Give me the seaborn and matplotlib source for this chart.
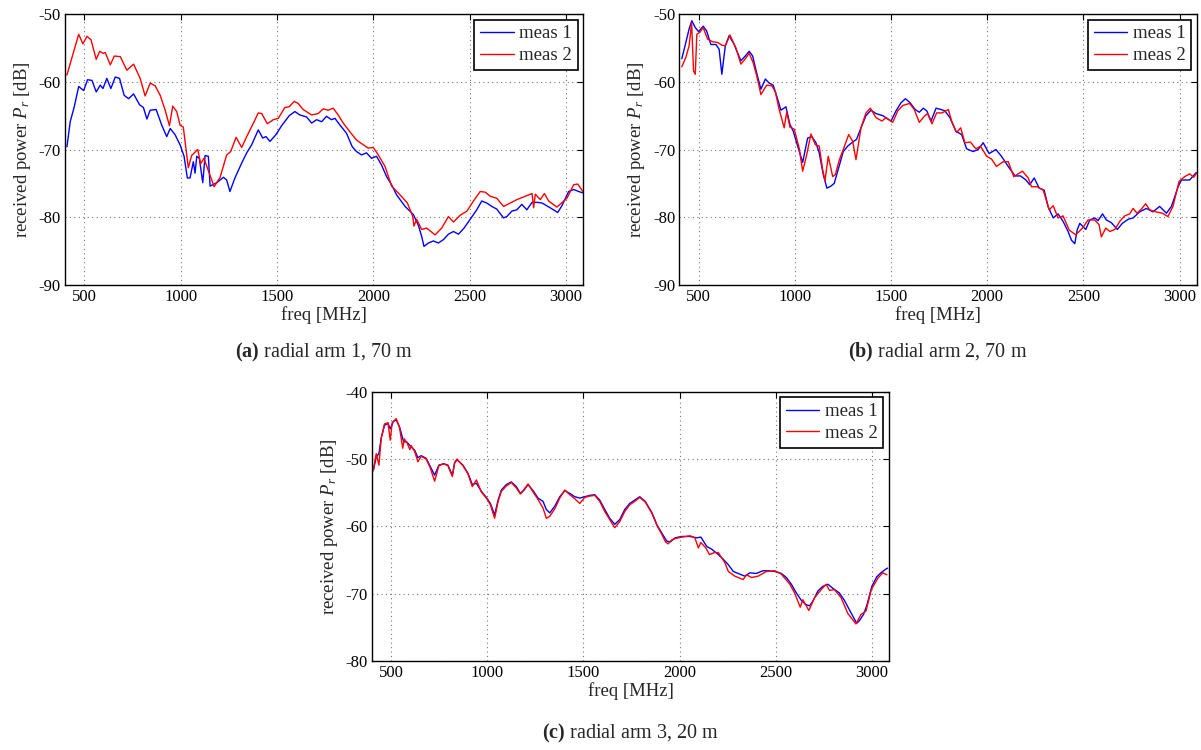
import matplotlib
matplotlib.use("Agg")
import matplotlib.pyplot as plt
import seaborn as sns
import pandas as pd

# ---------------- data ----------------
# Panel (a): radial arm 1, 70 m
a1_f = [410, 427, 448, 471, 497, 517, 540, 562, 583, 597, 617, 638, 661, 683, 707, 730, 756, 787, 807, 825,
        842, 873, 902, 928, 946, 971, 997, 1018, 1035, 1049, 1066, 1075, 1084, 1097, 1115, 1127, 1144, 1153, 1188,
        1222, 1239, 1256, 1282, 1317, 1343, 1369, 1403, 1426, 1443, 1464, 1495, 1524, 1564, 1593, 1619, 1654, 1680,
        1706, 1732, 1757, 1783, 1801, 1827, 1861, 1891, 1913, 1939, 1965, 1991, 2017, 2043, 2069, 2095, 2121, 2165,
        2208, 2234, 2251, 2263, 2286, 2312, 2338, 2364, 2390, 2416, 2442, 2471, 2503, 2537, 2563, 2589, 2615, 2641,
        2676, 2693, 2719, 2745, 2771, 2797, 2824, 2850, 2876, 2918, 2957, 2979, 3014, 3040, 3066, 3087]
a1_p = [-69.6, -65.9, -63.7, -60.7, -61.3, -59.7, -59.8, -61.5, -60.5, -61.0, -59.5, -61.0, -59.3, -59.5, -62.0,
        -62.5, -61.8, -63.4, -63.8, -65.5, -64.2, -64.1, -66.4, -68.1, -66.9, -67.8, -69.3, -71.0, -74.2, -74.2,
        -71.8, -73.5, -71.0, -71.3, -74.9, -70.9, -71.0, -75.4, -74.9, -74.1, -74.5, -76.2, -74.2, -72.0, -70.5,
        -69.3, -67.1, -68.3, -68.1, -68.8, -67.8, -66.5, -65.0, -64.4, -64.9, -65.2, -66.1, -65.6, -65.9, -65.1,
        -65.6, -65.4, -66.4, -67.6, -69.6, -70.3, -70.8, -70.5, -71.3, -71.0, -72.3, -74.0, -75.2, -76.7, -78.4,
        -79.6, -81.2, -82.8, -84.3, -83.8, -83.5, -83.8, -83.3, -82.5, -82.1, -82.5, -81.6, -80.3, -78.9, -77.6,
        -77.9, -78.4, -78.8, -80.1, -79.9, -79.1, -78.9, -78.1, -78.9, -77.8, -77.8, -77.9, -78.6, -79.3, -78.3,
        -76.2, -75.9, -76.2, -76.4]
a2_f = [410, 471, 493, 514, 535, 562, 580, 597, 609, 635, 656, 687, 721, 756, 790, 816, 842, 868, 894, 920, 942,
        959, 980, 997, 1014, 1040, 1057, 1089, 1104, 1121, 1174, 1205, 1239, 1260, 1288, 1317, 1343, 1378, 1403,
        1421, 1450, 1481, 1507, 1541, 1563, 1590, 1610, 1636, 1680, 1714, 1740, 1766, 1792, 1818, 1844, 1879, 1913,
        1948, 1974, 2000, 2026, 2061, 2095, 2139, 2177, 2205, 2211, 2225, 2251, 2277, 2321, 2355, 2390, 2416, 2451,
        2486, 2520, 2555, 2581, 2607, 2641, 2676, 2711, 2745, 2789, 2824, 2832, 2841, 2867, 2888, 2910, 2953, 3005,
        3040, 3061, 3088]
a2_p = [-59.0, -53.0, -54.4, -53.3, -53.8, -56.7, -55.5, -55.8, -55.7, -57.5, -56.2, -56.3, -58.3, -57.4, -59.5,
        -62.1, -60.2, -60.6, -62.0, -64.2, -66.5, -63.6, -64.4, -66.4, -66.7, -72.7, -70.9, -70.0, -72.1, -71.3,
        -75.5, -74.1, -70.8, -70.3, -68.2, -69.7, -68.1, -66.1, -64.6, -64.7, -66.2, -65.6, -65.4, -63.8, -63.7,
        -62.9, -63.2, -64.1, -64.9, -64.7, -64.0, -64.2, -63.9, -64.9, -66.1, -67.4, -68.6, -69.3, -69.8, -69.7,
        -70.8, -72.5, -75.4, -76.7, -77.9, -79.9, -81.3, -80.3, -81.8, -81.6, -82.6, -81.6, -79.9, -80.7, -79.7,
        -79.1, -77.6, -76.2, -76.3, -76.9, -77.2, -78.4, -77.9, -77.4, -76.9, -76.5, -78.6, -76.6, -77.4, -76.5,
        -77.6, -78.5, -77.2, -75.2, -75.1, -76.2]

# Panel (b): radial arm 2, 70 m
b1_f = [413, 434, 451, 465, 483, 500, 524, 542, 564, 590, 607, 621, 639, 659, 685, 720, 743, 763, 781, 802, 824,
        847, 867, 888, 906, 928, 954, 975, 992, 1015, 1041, 1067, 1089, 1110, 1127, 1148, 1167, 1188, 1205, 1228,
        1252, 1275, 1301, 1321, 1344, 1370, 1396, 1422, 1457, 1500, 1526, 1552, 1575, 1599, 1626, 1647, 1668, 1686,
        1708, 1734, 1760, 1780, 1806, 1837, 1867, 1893, 1927, 1953, 1979, 2010, 2045, 2074, 2109, 2144, 2173, 2201,
        2221, 2244, 2270, 2296, 2317, 2343, 2368, 2394, 2420, 2438, 2455, 2467, 2481, 2512, 2533, 2559, 2576, 2599,
        2619, 2645, 2676, 2702, 2732, 2758, 2792, 2827, 2861, 2896, 2931, 2957, 2992, 3009, 3052, 3086]
b1_p = [-56.6, -54.2, -52.2, -51.0, -52.0, -52.6, -51.8, -52.5, -54.5, -54.5, -55.2, -58.9, -54.7, -53.2, -54.5,
        -56.9, -56.2, -55.5, -56.2, -58.7, -61.1, -59.6, -60.2, -60.5, -62.1, -64.2, -63.7, -66.3, -67.3, -69.5,
        -71.9, -68.3, -68.1, -69.0, -70.5, -73.7, -75.7, -75.4, -75.0, -72.7, -70.3, -69.5, -68.9, -68.5, -66.8,
        -65.0, -64.2, -64.7, -65.0, -65.8, -64.3, -63.1, -62.5, -63.1, -64.1, -64.5, -63.9, -64.3, -65.8, -63.9,
        -64.1, -64.3, -65.3, -67.3, -67.8, -69.9, -70.3, -70.0, -69.0, -70.6, -70.0, -71.0, -72.5, -73.9, -73.9,
        -74.5, -75.2, -74.2, -75.7, -76.0, -78.5, -80.1, -79.5, -80.6, -82.1, -83.4, -83.9, -81.9, -80.9, -81.8,
        -80.4, -80.1, -80.5, -79.5, -80.4, -80.8, -81.8, -80.9, -80.3, -80.1, -79.2, -78.7, -79.2, -78.4, -79.4,
        -78.4, -75.5, -74.5, -74.5, -73.4]
b2_f = [413, 434, 451, 464, 474, 483, 491, 507, 524, 547, 573, 599, 621, 639, 663, 694, 720, 743, 763, 784, 803,
        824, 854, 881, 899, 919, 945, 958, 975, 997, 1023, 1041, 1061, 1084, 1107, 1127, 1145, 1157, 1174, 1197,
        1211, 1232, 1252, 1280, 1301, 1318, 1344, 1370, 1393, 1422, 1453, 1474, 1509, 1535, 1561, 1596, 1621, 1647,
        1673, 1690, 1713, 1737, 1765, 1798, 1815, 1841, 1862, 1884, 1913, 1941, 1965, 1997, 2022, 2048, 2083, 2109,
        2138, 2183, 2213, 2230, 2260, 2291, 2322, 2343, 2368, 2394, 2426, 2460, 2495, 2524, 2559, 2581, 2593, 2616,
        2637, 2663, 2689, 2714, 2740, 2758, 2778, 2801, 2823, 2844, 2875, 2910, 2939, 2965, 2997, 3026, 3052, 3073,
        3090]
b2_p = [-57.8, -56.4, -54.7, -51.3, -58.4, -58.9, -53.0, -52.7, -52.0, -53.7, -54.1, -54.2, -54.6, -54.7, -53.1,
        -55.0, -57.4, -56.6, -55.8, -57.2, -59.2, -61.9, -60.5, -60.6, -61.5, -64.1, -66.8, -64.5, -66.7, -67.0,
        -69.8, -73.2, -70.9, -67.7, -69.3, -69.5, -73.0, -74.6, -71.0, -74.0, -73.7, -71.5, -70.0, -67.8, -68.8,
        -71.5, -66.8, -64.6, -63.9, -65.3, -65.8, -65.3, -66.0, -64.3, -63.5, -63.2, -64.1, -66.0, -65.1, -64.7,
        -66.2, -64.6, -64.6, -64.1, -65.8, -67.5, -66.8, -69.0, -68.9, -69.9, -69.5, -71.0, -71.4, -72.5, -71.8,
        -71.8, -74.0, -73.2, -74.2, -75.5, -75.5, -76.0, -78.9, -78.3, -80.1, -79.8, -81.9, -82.6, -81.6, -80.4,
        -80.4, -81.1, -82.9, -81.6, -82.1, -81.8, -80.6, -79.8, -79.5, -78.7, -79.4, -78.8, -78.0, -78.9, -79.2,
        -79.4, -79.9, -78.4, -74.7, -74.0, -73.6, -74.1, -73.4]

# Panel (c): radial arm 3, 20 m
c1_f = [408, 422, 436, 448, 465, 483, 495, 512, 526, 543, 564, 582, 604, 622, 639, 656, 682, 703, 726, 748, 773,
        795, 818, 830, 842, 873, 899, 922, 943, 969, 995, 1016, 1038, 1056, 1073, 1099, 1125, 1151, 1172, 1189,
        1212, 1238, 1264, 1290, 1307, 1325, 1351, 1377, 1403, 1429, 1455, 1481, 1507, 1533, 1559, 1585, 1611, 1637,
        1663, 1689, 1715, 1741, 1767, 1793, 1822, 1857, 1883, 1908, 1934, 1952, 1978, 2012, 2055, 2090, 2111, 2142,
        2168, 2202, 2228, 2254, 2280, 2314, 2340, 2366, 2399, 2434, 2461, 2496, 2530, 2556, 2582, 2608, 2634, 2656,
        2677, 2694, 2720, 2746, 2772, 2798, 2832, 2858, 2884, 2905, 2922, 2936, 2957, 2974, 3001, 3026, 3048, 3071,
        3083]
c1_p = [-51.6, -49.7, -49.2, -46.9, -45.0, -44.7, -45.5, -44.4, -44.2, -45.2, -47.4, -47.5, -48.2, -48.7, -49.8,
        -49.5, -49.9, -51.1, -52.4, -50.9, -50.7, -50.9, -52.4, -50.6, -50.1, -50.9, -52.1, -53.8, -53.6, -54.8,
        -55.7, -56.6, -58.3, -56.1, -54.6, -53.8, -53.4, -54.1, -55.1, -54.7, -53.8, -54.7, -55.8, -56.3, -57.5,
        -58.0, -57.0, -55.6, -54.7, -55.1, -55.6, -55.8, -55.6, -55.4, -55.3, -56.1, -57.5, -58.8, -59.7, -59.0,
        -57.5, -56.6, -56.1, -55.6, -56.3, -58.0, -59.8, -61.0, -62.2, -62.3, -61.7, -61.5, -61.5, -61.7, -61.6,
        -63.0, -63.4, -64.2, -64.9, -65.7, -66.7, -67.1, -67.4, -66.9, -67.0, -66.6, -66.6, -66.7, -67.0, -67.6,
        -68.6, -69.9, -71.0, -71.6, -71.8, -71.1, -69.6, -68.9, -68.6, -69.2, -69.9, -71.0, -72.4, -73.5, -74.4,
        -74.0, -73.1, -71.8, -68.9, -67.5, -66.9, -66.4, -66.2]
c2_f = [405, 422, 436, 448, 465, 483, 495, 505, 526, 543, 560, 568, 582, 597, 604, 622, 639, 656, 682, 703, 726,
        748, 773, 795, 818, 830, 842, 873, 899, 922, 943, 969, 995, 1016, 1038, 1056, 1073, 1099, 1125, 1151, 1172,
        1189, 1212, 1238, 1264, 1290, 1307, 1325, 1351, 1377, 1403, 1429, 1455, 1481, 1507, 1533, 1559, 1585, 1611,
        1637, 1663, 1689, 1715, 1741, 1767, 1793, 1822, 1857, 1883, 1908, 1927, 1941, 1960, 1978, 2012, 2055, 2080,
        2098, 2111, 2137, 2156, 2180, 2202, 2236, 2254, 2288, 2331, 2349, 2375, 2409, 2452, 2496, 2530, 2574, 2599,
        2628, 2642, 2673, 2703, 2737, 2763, 2780, 2806, 2841, 2875, 2918, 2944, 2970, 2998, 3032, 3058, 3079]
c2_p = [-51.8, -49.2, -50.9, -46.9, -44.8, -44.6, -47.2, -44.6, -44.0, -45.3, -48.4, -47.0, -47.6, -48.6, -48.0,
        -48.9, -50.4, -49.6, -50.0, -51.3, -53.3, -51.0, -50.7, -51.0, -52.6, -50.5, -50.0, -51.0, -52.2, -54.1,
        -53.1, -54.9, -55.8, -56.8, -58.8, -56.3, -54.8, -54.0, -53.5, -54.3, -55.2, -54.6, -53.7, -54.9, -56.0,
        -57.3, -58.8, -58.5, -57.4, -55.8, -54.6, -55.3, -55.9, -56.6, -55.7, -55.5, -55.4, -56.3, -57.8, -59.0,
        -60.2, -59.3, -57.8, -56.8, -56.3, -55.7, -56.4, -58.1, -59.9, -61.2, -62.3, -62.6, -62.0, -61.8, -61.6,
        -61.4, -61.7, -63.2, -62.4, -63.2, -64.2, -63.9, -63.9, -65.4, -66.7, -67.4, -67.9, -67.2, -67.6, -67.4,
        -66.7, -66.6, -67.1, -68.6, -69.9, -72.0, -70.9, -72.5, -70.6, -69.4, -68.6, -69.5, -69.4, -70.6, -72.9,
        -74.5, -73.1, -72.6, -69.4, -67.7, -66.9, -67.2]

panels = [
    ("a", "radial arm 1, 70 m", a1_f, a1_p, a2_f, a2_p, (-90, -50)),
    ("b", "radial arm 2, 70 m", b1_f, b1_p, b2_f, b2_p, (-90, -50)),
    ("c", "radial arm 3, 20 m", c1_f, c1_p, c2_f, c2_p, (-80, -40)),
]
x_ticks = [500, 1000, 1500, 2000, 2500, 3000]
series_names = ["meas 1", "meas 2"]
series_colors = ["#0000ff", "#ff0000"]

# ---------------- style ----------------
sns.set_style("white")
plt.rcParams["font.family"] = ["Liberation Serif", "DejaVu Serif"]
plt.rcParams["mathtext.fontset"] = "custom"
plt.rcParams["mathtext.rm"] = "Liberation Serif"
plt.rcParams["mathtext.it"] = "Liberation Serif:italic"
plt.rcParams["mathtext.bf"] = "Liberation Serif:bold"
plt.rcParams["axes.unicode_minus"] = False

fig = plt.figure(figsize=(12.01, 7.5), dpi=100)
rects = [
    [65 / 1201, 1 - 285 / 750, 518.3 / 1201, 271 / 750],
    [679.3 / 1201, 1 - 285 / 750, 517.7 / 1201, 271 / 750],
    [372 / 1201, 1 - 661 / 750, 517 / 1201, 269.3 / 750],
]
caption_y = [1 - 352 / 750, 1 - 352 / 750, 1 - 733 / 750]

for (tag, cap, f1, p1, f2, p2, ylim), rect, cy in zip(panels, rects, caption_y):
    ax = fig.add_axes(rect)
    df = pd.concat([
        pd.DataFrame({"freq": f1, "power": p1, "series": series_names[0]}),
        pd.DataFrame({"freq": f2, "power": p2, "series": series_names[1]}),
    ], ignore_index=True)
    sns.lineplot(data=df, x="freq", y="power", hue="series", palette=series_colors,
                 hue_order=series_names, ax=ax, linewidth=1.0, estimator=None, sort=False)
    ax.set_xlim(400, 3090)
    ax.set_ylim(*ylim)
    ax.set_xticks(x_ticks)
    ax.set_yticks(range(ylim[0], ylim[1] + 1, 10))
    ax.set_yticklabels([str(v) for v in range(ylim[0], ylim[1] + 1, 10)])
    ax.grid(True, linestyle=(0, (1, 3)), color="#777777", linewidth=0.8)
    ax.tick_params(direction="in", top=True, right=True, length=4, width=0.8,
                   labelsize=12, colors="black", pad=3)
    for s in ax.spines.values():
        s.set_color("black")
        s.set_linewidth(1.0)
    ax.set_xlabel("freq [MHz]", fontsize=13.5, labelpad=1)
    ax.set_ylabel("received power $P_r$ [dB]", fontsize=13.5, labelpad=4)
    leg = ax.legend(loc="upper right", fontsize=13.5, frameon=True, fancybox=False,
                    framealpha=1, edgecolor="black", borderaxespad=0.3,
                    handlelength=1.8, handletextpad=0.3, borderpad=0.3, labelspacing=0.25)
    leg.get_frame().set_linewidth(1.2)
    leg.set_title(None)
    cx = rect[0] + rect[2] / 2
    fig.text(cx, cy, r"$\mathbf{(" + tag + r")}$ " + cap, ha="center", va="center", fontsize=14.5)

fig.savefig("out.png", dpi=100)
